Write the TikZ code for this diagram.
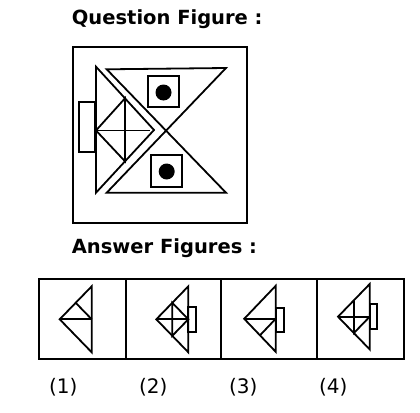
\documentclass[tikz,border=0pt]{standalone}
\usepackage{fontspec}
\setmainfont{DejaVu Sans}
\tikzset{
  cadre/.style={line width=2pt},
  trait/.style={line width=1.8pt},
  titre/.style={anchor=base west,inner sep=0pt,font=\fontsize{19.5}{22}\selectfont\bfseries},
  numero/.style={anchor=base,inner sep=0pt,font=\fontsize{20}{22}\selectfont}
}
\begin{document}
\begin{tikzpicture}[x=1pt,y=-1pt]
\useasboundingbox (0,0) rectangle (420,412);

% Figure question
\node[titre] (qtitre) at (71.7,25) {Question Figure :};
\draw[cadre] (73,47) rectangle (247,223);

\draw[trait] (79.3,101.7) rectangle (95,152.3);
\draw[trait] (96,66.7) -- (154,130) -- (96,192.7) -- cycle;
\draw[trait] (125,98.3) -- (96,130.5) -- (125,161.3) -- cycle;
\draw[trait] (96,130.5) -- (150,130.5);

\draw[trait] (106.7,69.3) -- (226,68) -- (106.7,192.7) -- (226,192.7) -- cycle;

\draw[trait] (148.3,75.7) rectangle (179,107.3);
\fill (163.5,92.5) circle (8);
\draw[trait] (151,155) rectangle (182.3,186.7);
\fill (166.7,171.5) circle (8);

% Figures reponses
\node[titre] (atitre) at (71.7,253.3) {Answer Figures :};
\draw[cadre] (38.7,279) rectangle (404.3,359.3);
\foreach \x in {126,221,316.7}
{
\draw[cadre] (\x,279) -- (\x,359.3);
}

% (1)
\begin{scope}[shift={(91.7,319.3)}]
\draw[trait] (0,-33) -- (-32,0) -- (0,33) -- cycle;
\draw[trait] (-32,0) -- (0,0);
\draw[trait] (-16,-16.5) -- (0,0);
\end{scope}

% (2)
\begin{scope}[shift={(188.3,319.3)}]
\draw[trait] (0,-12) rectangle (7.5,13);
\draw[trait] (0,-33) -- (-32,0) -- (0,33) -- cycle;
\draw[trait] (-16,-16.5) -- (0,0) -- (-16,16.5) -- cycle;
\draw[trait] (-32,0) -- (0,0);
\end{scope}

% (3)
\begin{scope}[shift={(275.7,318.8)}]
\draw[trait] (0,-11) rectangle (8.3,13.5);
\draw[trait] (0,-33) -- (-31.5,0) -- (0,33) -- cycle;
\draw[trait] (-31.5,0) -- (0,0);
\draw[trait] (-15.7,16.5) -- (0,0);
\end{scope}

% (4)
\begin{scope}[shift={(369.7,316.7)}]
\draw[trait] (0,-12.7) rectangle (7.6,12.6);
\draw[trait] (0,-32.7) -- (-31.7,0) -- (0,32.7) -- cycle;
\draw[trait] (-31.7,0) -- (0,0);
\draw[trait] (-15.8,-16.3) -- (-15.8,16.3) -- (0,0);
\end{scope}

\foreach \x/\n in {63.3/1,153.3/2,243.3/3,333.3/4}
{
\node[numero] (num\n) at (\x,393) {(\n)};
}

\end{tikzpicture}
\end{document}
